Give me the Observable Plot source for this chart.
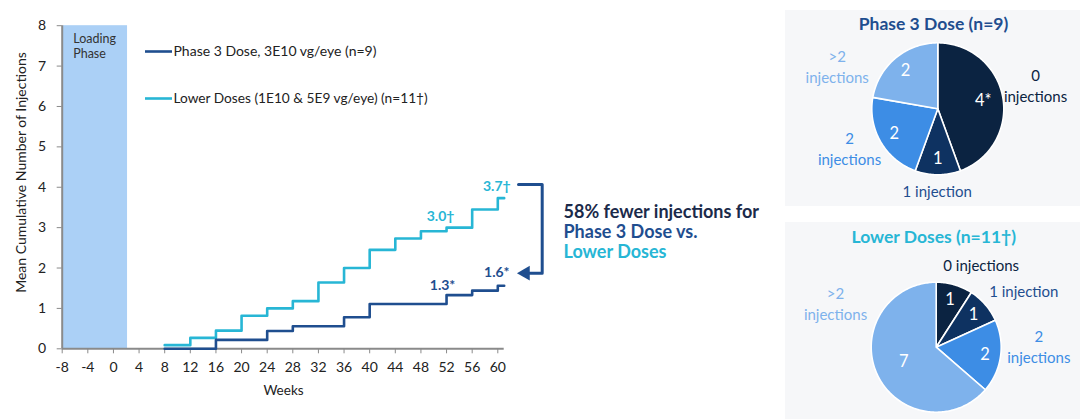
<!DOCTYPE html>
<html><head><meta charset="utf-8">
<script src="https://cdn.jsdelivr.net/npm/d3@7"></script>
<script src="https://cdn.jsdelivr.net/npm/@observablehq/plot@0.6"></script>
<style>
body{margin:0;background:#fff;font-family:Lato,"Open Sans",sans-serif}
#root{position:relative;width:1080px;height:419px;overflow:hidden;background:#fff}
#main{position:absolute;left:0;top:0}
.panel{position:absolute;background:#f6f7f9}
</style></head>
<body>
<div id="root">
  <div id="main"></div>
  <div class="panel" id="p1" style="left:785px;top:10px;width:295px;height:196px"></div>
  <div class="panel" id="p2" style="left:785px;top:222px;width:295px;height:197px"></div>
</div>
<script>
// ---------------- DATA ----------------
const weeks = [8, 12, 16, 20, 24, 28, 32, 36, 40, 44, 48, 52, 56, 60];
const endWeek = 61;
const phase3Values = [0, 0, 0.22, 0.22, 0.44, 0.56, 0.56, 0.78, 1.11, 1.11, 1.11, 1.33, 1.44, 1.56];
const lowerValues  = [0.09, 0.27, 0.45, 0.82, 1.0, 1.18, 1.64, 2.0, 2.45, 2.73, 2.91, 3.0, 3.45, 3.73];
const seriesNames = ["Phase 3 Dose, 3E10 vg/eye (n=9)", "Lower Doses (1E10 & 5E9 vg/eye) (n=11\u2020)"];
const xTicks = d3.range(-8, 61, 4);
const yTicks = d3.range(0, 9, 1);
const loadingPhase = [{start: -8, end: 2.2, top: 8, label: "Loading\nPhase"}];
const lowerEndLabels = [{week: 52, text: "3.0\u2020"}, {week: 60, text: "3.7\u2020"}];
const phase3EndLabels = [{week: 52, text: "1.3*"}, {week: 60, text: "1.6*"}];
const annotationLines = ["58% fewer injections for", "Phase 3 Dose vs.", "Lower Doses"];

const pieCategories = ["0 injections", "1 injection", "2 injections", ">2 injections"];
const phase3OuterLabels = ["0\ninjections", "1 injection", "2\ninjections", ">2\ninjections"];
const lowerOuterLabels = ["0 injections", "1 injection", "2\ninjections", ">2\ninjections"];
const phase3Counts = [4, 1, 2, 2];
const lowerCounts = [1, 1, 2, 7];
const phase3Inner = ["4*", "1", "2", "2"];
const lowerInner = ["1", "1", "2", "7"];
const pieTitles = ["Phase 3 Dose (n=9)", "Lower Doses (n=11\u2020)"];

// ---------------- STYLE ----------------
const C = {
  dark: "#1f4e8f", light: "#27b6d5", load: "#abd0f6", axis: "#8a8a8a", text: "#222",
  navy: "#1b2a4a",
  slices: ["#0b2341", "#0e3261", "#3d8de5", "#7eb2ec"],
  outer: ["#0b2341", "#1f4e8f", "#3d8de5", "#7eb2ec"]
};
const FONT = "Lato, 'Open Sans', sans-serif";

// ---------------- MAIN CHART ----------------
const W = 780, H = 419;
const M = {left: 61.7, right: W - 497.3, top: 25.2, bottom: H - 348.3};
const X = {domain: [-8, 60], range: [M.left, W - M.right]};
const Y = {domain: [0, 8], range: [H - M.bottom, M.top]};
const sx = Plot.scale({x: X}), sy = Plot.scale({y: Y});
const px = v => sx.invert(v), py = v => sy.invert(v);

const mk = vals => weeks.map((w, i) => ({week: w, value: vals[i]})).concat([{week: endWeek, value: vals[vals.length - 1]}]);
const phase3Series = mk(phase3Values);
const lowerSeries = mk(lowerValues);
const withVal = (labels, vals) => labels.map(d => ({...d, value: vals[weeks.indexOf(d.week)]}));
const lowerLab = withVal(lowerEndLabels, lowerValues);
const phase3Lab = withVal(phase3EndLabels, phase3Values);

const bracket = [[518, 184], [541.7, 184], [541.7, 272.7], [528, 272.7]].map(([a, b]) => ({x: px(a), y: py(b)}));

const endText = (data, color, dx, dy) => Plot.text(data, {x: "week", y: "value", dx, dy, text: "text", fill: color, fontWeight: "bold", fontSize: 14});

const main = Plot.plot({
  width: W, height: H,
  marginLeft: M.left, marginRight: M.right, marginTop: M.top, marginBottom: M.bottom,
  x: {domain: X.domain, label: null},
  y: {domain: Y.domain, label: null},
  style: {fontFamily: FONT, fontSize: "13px", color: C.text, background: "transparent", overflow: "visible"},
  marks: [
    Plot.rect(loadingPhase, {x1: "start", x2: "end", y1: 0, y2: "top", fill: C.load, insetLeft: 1}),
    Plot.text(loadingPhase, {x: "start", y: "top", dx: 11, dy: 7, text: "label", textAnchor: "start", lineAnchor: "top", fontSize: 12.5, fill: "#333", lineHeight: 1.2}),
    Plot.ruleY([0], {x1: -8, x2: 61, stroke: C.axis, strokeWidth: 2}),
    Plot.ruleX([-8], {y1: 0, y2: 8, stroke: C.axis, strokeWidth: 2}),
    Plot.axisX({ticks: xTicks, tickSize: 5, tickPadding: 8, tickFormat: d => String(d), stroke: C.axis, fill: C.text, fontSize: 14, label: null}),
    Plot.axisY({ticks: yTicks, tickSize: 5, tickPadding: 11, tickFormat: d => String(d), stroke: C.axis, fill: C.text, fontSize: 14, label: null}),
    Plot.text(["Mean Cumulative Number of Injections"], {x: px(21), y: py(172), rotate: -90, fontSize: 14, fill: C.text}),
    Plot.text(["Weeks"], {x: px(283), y: py(390), fontSize: 13.5, fill: C.text}),
    // step lines
    Plot.line(lowerSeries, {x: "week", y: "value", curve: "step-after", stroke: C.light, strokeWidth: 2.6}),
    Plot.line(phase3Series, {x: "week", y: "value", curve: "step-after", stroke: C.dark, strokeWidth: 2.6}),
    // legend
    Plot.ruleY([py(51)], {x1: px(145), x2: px(172), stroke: C.dark, strokeWidth: 2.6}),
    Plot.ruleY([py(98)], {x1: px(145), x2: px(172), stroke: C.light, strokeWidth: 2.6}),
    Plot.text([seriesNames[0]], {x: px(173), y: py(51), textAnchor: "start", fontSize: 14, fill: C.text}),
    Plot.text([seriesNames[1]], {x: px(173), y: py(98), textAnchor: "start", fontSize: 13.7, fill: C.text}),
    // end labels
    endText(lowerLab.filter(d => d.week === 52), C.light, -6, -11),
    endText(lowerLab.filter(d => d.week === 60), C.light, -1, -12),
    endText(phase3Lab.filter(d => d.week === 52), C.dark, -4, -10),
    endText(phase3Lab.filter(d => d.week === 60), C.dark, -1, -13),
    // bracket
    Plot.line(bracket, {x: "x", y: "y", stroke: C.dark, strokeWidth: 3}),
    Plot.dot([bracket[3]], {x: "x", y: "y", dx: -3, symbol: "triangle", rotate: -90, r: 5.5, fill: C.dark, stroke: "none"}),
    // annotation text
    Plot.text([annotationLines[0]], {x: px(563), y: py(211.7), textAnchor: "start", fontWeight: "bold", fontSize: 18, fill: C.navy}),
    Plot.text([annotationLines[1]], {x: px(563), y: py(231.7), textAnchor: "start", fontWeight: "bold", fontSize: 18, fill: C.dark}),
    Plot.text([annotationLines[2]], {x: px(563), y: py(251.7), textAnchor: "start", fontWeight: "bold", fontSize: 18, fill: C.light})
  ]
});
document.getElementById("main").appendChild(main);

// ---------------- PIES ----------------
function drawPie(el, counts, inner, outerLabels, title, titleColor, L) {
  const arcs = d3.pie().sort(null).value(d => d)(counts);
  const pts = [];
  arcs.forEach((a, i) => {
    pts.push({i, x: 0, y: 0});
    const n = Math.max(2, Math.ceil((a.endAngle - a.startAngle) / 0.02));
    for (let k = 0; k <= n; k++) {
      const t = a.startAngle + (a.endAngle - a.startAngle) * k / n;
      pts.push({i, x: Math.sin(t), y: Math.cos(t)});
    }
    pts.push({i, x: 0, y: 0});
  });
  const total = d3.sum(counts);
  const innerPos = arcs.map((a, i) => {
    const m = (a.startAngle + a.endAngle) / 2;
    const rr = counts[i] / total > 0.5 ? 0.55 : (counts[i] / total > 0.4 ? 0.7 : 0.76);
    return {x: rr * Math.sin(m), y: rr * Math.cos(m), text: inner[i]};
  });
  const outer = outerLabels.map((t, i) => ({x: L.outer[i][0] / L.r, y: -L.outer[i][1] / L.r, text: t, color: C.outer[i]}));
  const chart = Plot.plot({
    width: L.w, height: L.h,
    x: {domain: [-1, 1], range: [L.cx - L.r, L.cx + L.r], axis: null},
    y: {domain: [-1, 1], range: [L.cy + L.r, L.cy - L.r], axis: null},
    color: {type: "identity"},
    style: {fontFamily: FONT, background: "transparent", overflow: "visible"},
    marks: [
      Plot.line(pts, {x: "x", y: "y", z: "i", fill: d => C.slices[d.i], stroke: "white", strokeWidth: 1.6, strokeLinejoin: "round"}),
      Plot.text(innerPos, {x: "x", y: "y", text: "text", fill: "white", fontSize: 16.5}),
      Plot.text(outer, {x: "x", y: "y", text: "text", fill: "color", fontSize: 15, lineHeight: 1.4}),
      Plot.text([title], {x: L.title[0] / L.r, y: -L.title[1] / L.r, fill: titleColor, fontWeight: "bold", fontSize: 17.5})
    ]
  });
  el.appendChild(chart);
}

drawPie(document.getElementById("p1"), phase3Counts, phase3Inner, phase3OuterLabels, pieTitles[0], C.dark, {
  w: 295, h: 196, cx: 152.3, cy: 98.3, r: 66,
  title: [-4.3, -84],
  outer: [[97.7, -24.3], [-0.6, 81], [-88.3, 38.9], [-100.6, -42.8]]
});
drawPie(document.getElementById("p2"), lowerCounts, lowerInner, lowerOuterLabels, pieTitles[1], C.light, {
  w: 295, h: 197, cx: 150.7, cy: 124.7, r: 65,
  title: [-2.4, -109.7],
  outer: [[45, -83.4], [87.6, -57.4], [102.6, -1.2], [-100.7, -44]]
});
</script>
</body></html>
